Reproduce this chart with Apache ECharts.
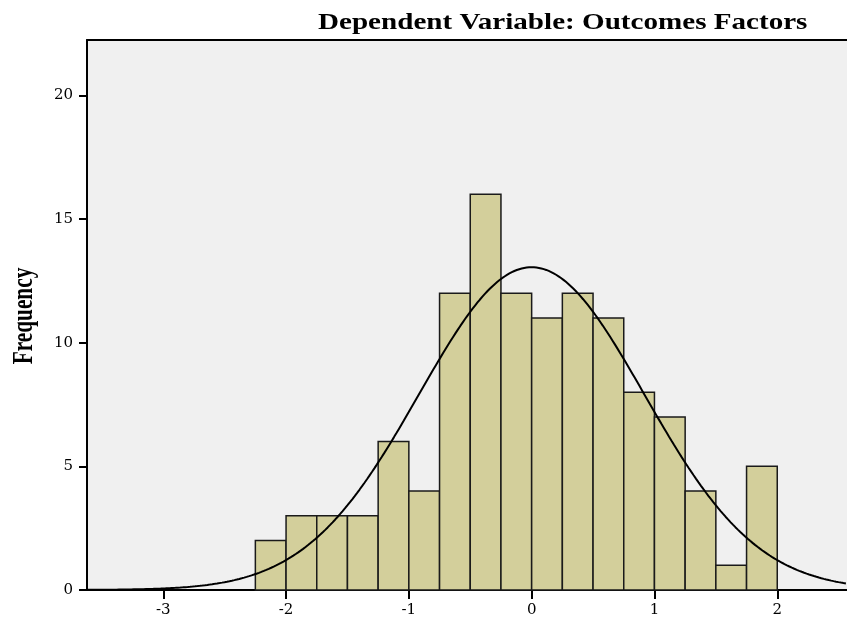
<!DOCTYPE html>
<html>
<head>
<meta charset="utf-8">
<script src="https://cdn.jsdelivr.net/npm/echarts@6/dist/echarts.min.js"></script>
<style>
html,body{margin:0;padding:0;background:#fff;}
#c{width:847px;height:618px;}
</style>
</head>
<body>
<div id="c"></div>
<script>
// Histogram bins (lower edge) and frequencies
var binStarts = [-2.25,-2.0,-1.75,-1.5,-1.25,-1.0,-0.75,-0.5,-0.25,0.0,0.25,0.5,0.75,1.0,1.25,1.5,1.75];
var binWidth = 0.25;
var frequencies = [2,3,3,3,6,4,12,16,12,11,12,11,8,7,4,1,5];
// Normal curve parameters
var curveMean = 0.0;
var curveSD = 0.917;
var curveN = 120;
// Tick labels
var xTicks = [-3,-2,-1,0,1,2];
var yTicks = [0,5,10,15,20];
var titleText = 'Dependent Variable: Outcomes Factors';
var yAxisTitle = 'Frequency';
var xMin = -3.621, xMax = 2.568, yMax = 22.24;

var barData = binStarts.map(function(s,i){ return [s, s+binWidth, frequencies[i]]; });
var curveData = [];
for (var x = xMin; x <= xMax + 1e-9; x += 0.02) {
  var z = (x - curveMean) / curveSD;
  curveData.push([x, curveN * binWidth * Math.exp(-0.5*z*z) / (curveSD*Math.sqrt(2*Math.PI))]);
}

var serif = '"Liberation Serif","Times New Roman",serif';
var tickFont = '"DejaVu Serif",serif';
var chart = echarts.init(document.getElementById('c'), null, {renderer:'canvas'});
chart.setOption({
  animation:false,
  backgroundColor:'#ffffff',
  graphic:[{
    type:'text', x:318, y:23, scaleX:1.265, scaleY:1,
    style:{text:titleText, font:'bold 23px ' + serif, fill:'#000', textAlign:'left', textVerticalAlign:'middle'}
  },{
    type:'text', x:24, y:316, rotation:Math.PI/2, scaleX:0.71, scaleY:1,
    style:{text:yAxisTitle, font:'bold 30px ' + serif, fill:'#000', textAlign:'center', textVerticalAlign:'middle'}
  }],
  grid:{left:87, right:0, top:40, bottom:27, show:true, backgroundColor:'#F0F0F0', borderWidth:0},
  xAxis:[{
    type:'value', min:xMin, max:xMax,
    axisLine:{show:true, onZero:false, lineStyle:{color:'#000', width:2}},
    axisTick:{show:true, inside:false, length:9, customValues:xTicks, lineStyle:{color:'#000', width:2}},
    axisLabel:{customValues:xTicks, margin:13, fontFamily:tickFont, fontSize:15, color:'#000'},
    splitLine:{show:false}
  },{
    type:'value', position:'top', min:xMin, max:xMax,
    axisLine:{show:true, onZero:false, lineStyle:{color:'#000', width:2}},
    axisTick:{show:false}, axisLabel:{show:false}, splitLine:{show:false}
  }],
  yAxis:{
    type:'value', min:0, max:yMax,
    axisLine:{show:true, onZero:false, lineStyle:{color:'#000', width:2}},
    axisTick:{show:true, length:8, customValues:yTicks, lineStyle:{color:'#000', width:2}},
    axisLabel:{customValues:yTicks, margin:14, fontFamily:tickFont, fontSize:15, color:'#000'},
    splitLine:{show:false}
  },
  series:[{
    type:'custom',
    data:barData,
    encode:{x:[0,1], y:2},
    renderItem:function(params, api){
      var p0 = api.coord([api.value(0), 0]);
      var p1 = api.coord([api.value(1), api.value(2)]);
      return {
        type:'rect',
        shape:{x:p0[0], y:p1[1], width:p1[0]-p0[0], height:p0[1]-p1[1]},
        style:{fill:'#D3CF9B', stroke:'#1a1a1a', lineWidth:1.5}
      };
    },
    z:2
  },{
    type:'line',
    data:curveData,
    showSymbol:false,
    smooth:false,
    lineStyle:{color:'#000', width:2},
    z:3
  }]
});
</script>
</body>
</html>
